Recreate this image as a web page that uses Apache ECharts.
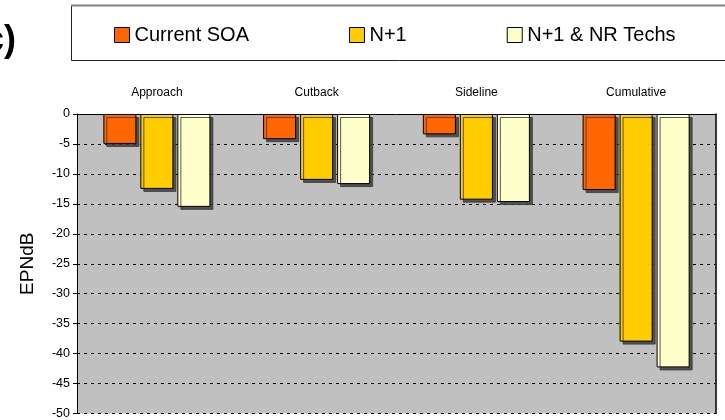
<!DOCTYPE html>
<html>
<head>
<meta charset="utf-8">
<script src="https://cdn.jsdelivr.net/npm/echarts@6/dist/echarts.min.js"></script>
<style>
  html, body { margin: 0; padding: 0; background: #fff; }
  #chart { width: 725px; height: 420px; }
</style>
</head>
<body>
<div id="chart"></div>
<script>
// Noise reduction per certification point, in EPNdB
const categories = ['Approach', 'Cutback', 'Sideline', 'Cumulative'];
const seriesNames = ['Current SOA', 'N+1', 'N+1 & NR Techs'];
const currentSOA = [-5.0, -4.2, -3.4, -12.7];
const nPlus1 = [-12.5, -11.0, -14.3, -38.0];
const nPlus1NR = [-15.5, -11.7, -14.7, -42.3];
const yTicks = { min: -50, max: 0, interval: 5 };

const colors = ['#FF6600', '#FFCC00', '#FFFFCC'];
const values = [currentSOA, nPlus1, nPlus1NR];

const chart = echarts.init(document.getElementById('chart'));

const series = seriesNames.map((name, i) => ({
  name: name,
  type: 'bar',
  data: values[i],
  barGap: '12%',
  barCategoryGap: '33%',
  itemStyle: {
    color: colors[i],
    borderColor: '#000',
    borderWidth: 1,
    shadowColor: 'rgba(60,60,60,0.85)',
    shadowOffsetX: 3,
    shadowOffsetY: 3,
    shadowBlur: 0
  }
}));

chart.setOption({
  animation: false,
  textStyle: { fontFamily: 'Arial, "Liberation Sans", sans-serif' },
  grid: {
    left: 77, right: 9, top: 114, bottom: 5,
    show: true, backgroundColor: '#C0C0C0', borderWidth: 0
  },
  legend: {
    data: seriesNames,
    left: 114, top: 25,
    padding: 0,
    itemGap: 100,
    itemWidth: 15, itemHeight: 15,
    icon: 'rect',
    textStyle: { fontSize: 20, color: '#000' },
    itemStyle: { borderColor: '#000', borderWidth: 1, shadowBlur: 0, shadowOffsetX: 0, shadowOffsetY: 0 }
  },
  xAxis: {
    type: 'category',
    position: 'top',
    data: categories,
    axisLine: { show: true, lineStyle: { color: '#000', width: 1 } },
    axisTick: { show: false },
    axisLabel: { fontSize: 12, color: '#000', margin: 15 }
  },
  yAxis: [{
    type: 'value',
    min: yTicks.min, max: yTicks.max, interval: yTicks.interval,
    name: 'EPNdB',
    nameLocation: 'middle',
    nameGap: 40,
    nameRotate: 90,
    nameTextStyle: { fontSize: 19, color: '#000' },
    axisLine: { show: true, lineStyle: { color: '#000', width: 1 } },
    axisTick: { show: true, length: 4, lineStyle: { color: '#000' } },
    axisLabel: { fontSize: 12.5, color: '#000', margin: 7 },
    splitLine: { show: true, lineStyle: { color: '#000', type: [3, 4], width: 1 } }
  }, {
    type: 'value',
    position: 'right',
    min: yTicks.min, max: yTicks.max, interval: yTicks.interval,
    axisLine: { show: true, lineStyle: { color: '#000', width: 1.5 } },
    axisTick: { show: false },
    axisLabel: { show: false },
    splitLine: { show: false }
  }],
  graphic: [
    {
      type: 'rect', z: -1,
      shape: { x: 71.5, y: 5.5, width: 700, height: 55 },
      style: { fill: '#fff', stroke: '#222', lineWidth: 1 }
    },
    {
      type: 'line', z: 0,
      shape: { x1: 71, y1: 5.5, x2: 725, y2: 5.5 },
      style: { stroke: '#808080', lineWidth: 2 }
    },
    {
      type: 'text',
      x: 16, y: 41,
      style: {
        text: '(c)',
        font: 'bold 36px Arial, "Liberation Sans", sans-serif',
        fill: '#000',
        align: 'right',
        verticalAlign: 'middle'
      }
    }
  ],
  series: series
});
</script>
</body>
</html>
